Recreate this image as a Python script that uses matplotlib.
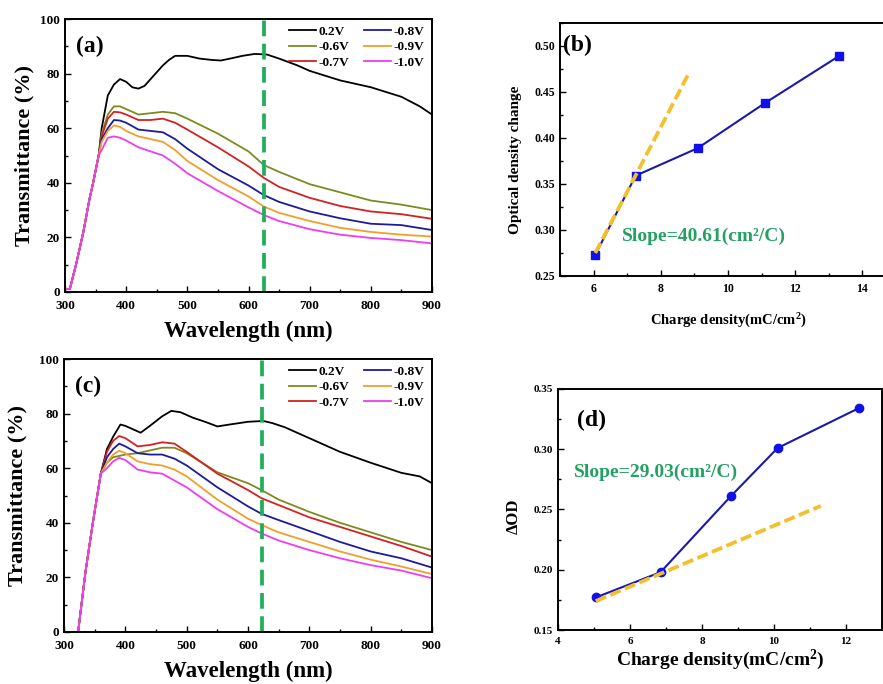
import matplotlib
matplotlib.use("Agg")
import matplotlib.pyplot as plt
from matplotlib.ticker import MultipleLocator, FormatStrFormatter

plt.rcParams['font.family'] = ['Liberation Serif', 'DejaVu Serif']
plt.rcParams['font.weight'] = 'bold'
plt.rcParams['mathtext.fontset'] = 'custom'
plt.rcParams['mathtext.default'] = 'bf'
plt.rcParams['mathtext.bf'] = 'Liberation Serif:bold'
plt.rcParams['mathtext.rm'] = 'Liberation Serif:bold'

labels = ['0.2V', '-0.6V', '-0.7V', '-0.8V', '-0.9V', '-1.0V']
colors = ['#000000', '#7f8a1e', '#d42121', '#1b1b9c', '#f0a02a', '#f03cf0']

# ---- panel (a) ----
a_edge_wl = [300, 308, 318, 330, 340, 346, 355]
a_edge_t = [1.0, 1.2, 10, 22, 34, 40, 50]
a_wl = {
    '0.2V': [360, 370, 380, 390, 400, 410, 420, 430, 440, 450, 460, 470, 480, 500, 520, 540, 555,
             570, 590, 610, 630, 650, 680, 700, 750, 800, 850, 880, 900],
    'rest': [360, 370, 380, 390, 400, 420, 440, 460, 480, 500, 550, 600, 625, 650, 700, 750, 800, 850, 900],
}
a_t = {
    '0.2V': [60, 72, 76, 78, 77, 75, 74.5, 75.5, 78, 80.5, 83, 85, 86.5, 86.5, 85.5, 85, 84.8,
             85.5, 86.5, 87.2, 87, 85.5, 83, 81, 77.5, 75, 71.5, 68, 65],
    '-0.6V': [58, 65, 68, 68, 67, 65, 65.5, 66, 65.5, 63.5, 58, 51.5, 46.5, 44, 39.5, 36.5, 33.5, 32, 30],
    '-0.7V': [57, 63.5, 66, 65.8, 65, 63, 63, 63.5, 62, 59.5, 53, 46, 41.8, 38.5, 34.5, 31.5, 29.5, 28.5, 26.8],
    '-0.8V': [56, 60, 63, 62.8, 62, 59.5, 59, 58.5, 56, 52.5, 45, 39, 35.5, 33, 29.5, 27, 25, 24.5, 22.7],
    '-0.9V': [55, 59, 61, 60.5, 59, 57, 56, 55, 52, 48, 41, 35, 31.3, 29, 26, 23.5, 22, 21, 20.3],
    '-1.0V': [52, 56.5, 57, 56.5, 55.5, 53, 51.5, 50, 47, 43.5, 37, 31, 28.2, 26, 23, 21, 19.8, 19, 17.8],
}

# ---- panel (c) ----
c_edge_wl = [318, 323, 335, 347, 360]
c_edge_t = [-8, 0, 22, 40, 58]
c_wl = {
    '0.2V': [370, 380, 392, 400, 410, 425, 440, 460, 475, 490, 510, 530, 550, 570, 600, 625,
             640, 660, 700, 750, 800, 850, 880, 900],
    'rest': [370, 380, 390, 400, 420, 440, 460, 480, 500, 550, 600, 622, 650, 700, 750, 800, 850, 900],
}
c_t = {
    '0.2V': [67, 71.5, 76, 75.5, 74.5, 73, 75.5, 79, 81, 80.5, 78.5, 77, 75.3, 76, 77, 77.3,
             76.5, 75, 71, 66, 62, 58.3, 57, 54.5],
    '-0.6V': [62, 64, 64.5, 65, 65.5, 66.5, 67.5, 67.5, 65.5, 58.5, 54.5, 52, 48.5, 44, 40, 36.5, 33, 30],
    '-0.7V': [66, 70, 71.8, 71, 68, 68.5, 69.5, 69, 66, 58, 52, 49, 46.5, 42, 38.5, 35, 31.5, 27.6],
    '-0.8V': [64, 67, 69, 68, 65.5, 65, 65, 63.5, 61, 53, 46, 43.3, 41, 37, 33, 29.5, 27, 23.6],
    '-0.9V': [62, 65, 66.4, 65.5, 62.5, 61.5, 61, 59.5, 57, 48.5, 41.5, 39.2, 36.5, 33, 29.5, 26.5, 24, 21.2],
    '-1.0V': [60, 62.5, 63.8, 63, 59.5, 58.5, 58, 55.5, 53, 45, 38.5, 36.1, 33.5, 30, 27, 24.5, 22.5, 19.7],
}

# ---- panel (b) ----
b_charge = [6.05, 7.25, 9.1, 11.1, 13.3]
b_od = [0.273, 0.359, 0.389, 0.438, 0.489]
b_fit_x = [6.05, 8.8]
b_fit_y = [0.275, 0.468]

# ---- panel (d) ----
d_charge = [5.05, 6.85, 8.8, 10.1, 12.35]
d_od = [0.177, 0.198, 0.261, 0.301, 0.334]
d_fit_x = [5.05, 11.3]
d_fit_y = [0.174, 0.253]

W, H = 883, 684
fig = plt.figure(figsize=(W / 100, H / 100), dpi=100)


def box(l, t, r, b):
    return [l / W, (H - b) / H, (r - l) / W, (b - t) / H]


def style(ax, lw=1.4, size=9, xpad=3.5):
    for s in ax.spines.values():
        s.set_linewidth(lw)
    ax.tick_params(which='both', direction='in', top=False, right=False, labelsize=size, width=1.0)
    ax.tick_params(which='major', length=4)
    ax.tick_params(which='minor', length=2.5)
    ax.tick_params(axis='x', pad=xpad)
    for lab in ax.get_xticklabels() + ax.get_yticklabels():
        lab.set_fontweight('bold')


def spectra(ax, edge_wl, edge_t, wl, t, vline, tag, ylx):
    for i, lab in enumerate(labels):
        xs = wl['0.2V'] if lab == '0.2V' else wl['rest']
        ax.plot(edge_wl + xs, edge_t + t[lab], color=colors[i], lw=1.3, label=lab)
    ax.axvline(vline, color='#1fae5a', lw=2.7, dashes=(4.2, 2.0))
    ax.set_xlim(300, 900)
    ax.set_ylim(0, 100)
    ax.xaxis.set_major_locator(MultipleLocator(100))
    ax.xaxis.set_minor_locator(MultipleLocator(50))
    ax.yaxis.set_major_locator(MultipleLocator(20))
    ax.yaxis.set_minor_locator(MultipleLocator(10))
    style(ax, size=9.5, xpad=6)
    ax.set_xlabel('Wavelength (nm)', fontsize=16.5, fontweight='bold', labelpad=6)
    ax.set_ylabel('Transmittance (%)', fontsize=16, fontweight='bold')
    ax.yaxis.set_label_coords(ylx, 0.5)
    ax.text(0.03, 0.88, tag, transform=ax.transAxes, fontsize=17, fontweight='bold')
    ax.legend(ncol=2, loc='upper right', bbox_to_anchor=(1.0, 1.005), frameon=False,
              prop={'family': 'Liberation Serif', 'weight': 'bold', 'size': 9.5},
              handlelength=2.1, handletextpad=0.15, columnspacing=1.1, labelspacing=0.25,
              borderaxespad=0.2)


ax_a = fig.add_axes(box(65, 19, 432, 292))
spectra(ax_a, a_edge_wl, a_edge_t, a_wl, a_t, 626, '(a)', -0.082)

ax_c = fig.add_axes(box(64, 359, 432, 632))
spectra(ax_c, c_edge_wl, c_edge_t, c_wl, c_t, 623, '(c)', -0.098)

# (b)
ax_b = fig.add_axes(box(560, 23, 896, 276))
ax_b.plot(b_charge, b_od, color='#1a1aa8', lw=1.5, marker='s', ms=5.5, mfc='#1010e8', mec='#1010e8')
ax_b.plot(b_fit_x, b_fit_y, color='#f2c02c', lw=2.7, dashes=(3.0, 1.2))
ax_b.set_xlim(5, 15)
ax_b.set_ylim(0.25, 0.525)
ax_b.xaxis.set_major_locator(MultipleLocator(2))
ax_b.xaxis.set_minor_locator(MultipleLocator(1))
ax_b.yaxis.set_major_locator(MultipleLocator(0.05))
ax_b.yaxis.set_minor_locator(MultipleLocator(0.025))
ax_b.yaxis.set_major_formatter(FormatStrFormatter('%.2f'))
style(ax_b, size=8.5, xpad=5)
ax_b.set_xlabel('Charge density(mC/cm$^2$)', fontsize=10.5, fontweight='bold', labelpad=12)
ax_b.set_ylabel('Optical density change', fontsize=11, fontweight='bold')
ax_b.yaxis.set_label_coords(-0.113, 0.46)
ax_b.text(0.01, 0.91, '(b)', transform=ax_b.transAxes, fontsize=17, fontweight='bold', va='center')
ax_b.text(6.85, 0.293, 'Slope=40.61(cm²/C)', fontsize=14, fontweight='bold', color='#23a062', va='center')

# (d)
ax_d = fig.add_axes(box(558, 389, 882, 630))
ax_d.plot(d_charge, d_od, color='#1a1aa8', lw=1.5, marker='o', ms=6, mfc='#1010e8', mec='#1010e8')
ax_d.plot(d_fit_x, d_fit_y, color='#f2c02c', lw=2.7, dashes=(3.0, 1.2))
ax_d.set_xlim(4, 13)
ax_d.set_ylim(0.15, 0.35)
ax_d.xaxis.set_major_locator(MultipleLocator(2))
ax_d.xaxis.set_minor_locator(MultipleLocator(1))
ax_d.yaxis.set_major_locator(MultipleLocator(0.05))
ax_d.yaxis.set_minor_locator(MultipleLocator(0.025))
ax_d.yaxis.set_major_formatter(FormatStrFormatter('%.2f'))
style(ax_d, size=8, xpad=5)
ax_d.set_xlabel('Charge density(mC/cm$^2$)', fontsize=14, fontweight='bold', labelpad=1)
ax_d.set_ylabel('ΔOD', fontsize=12, fontweight='bold')
ax_d.yaxis.set_label_coords(-0.111, 0.47)
ax_d.text(0.06, 0.87, '(d)', transform=ax_d.transAxes, fontsize=17, fontweight='bold', va='center')
ax_d.text(4.45, 0.281, 'Slope=29.03(cm²/C)', fontsize=14, fontweight='bold', color='#23a062', va='center')

fig.savefig('out.png', dpi=100)
